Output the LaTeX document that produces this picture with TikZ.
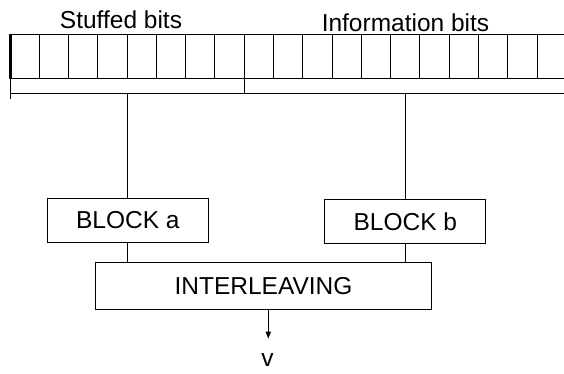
\documentclass[tikz,border=0pt]{standalone}
\usepackage{fontspec}
\setmainfont{Liberation Sans}
\usetikzlibrary{positioning,arrows.meta,calc}

\begin{document}
\begin{tikzpicture}[x=0.5pt,y=-0.5pt,line width=0.5pt,align=center,
    every node/.style={font=\fontsize{12.25}{14}\selectfont},
    blockbox/.style={draw=black,inner sep=0pt,minimum width=80.5pt,minimum height=22pt}]
      \useasboundingbox (0,0) rectangle (564,374);
      % the bit register
      \foreach \i in {1,...,18}
        \draw (10+\i*29.28,34.3) -- (10+\i*29.28,78.7);
      \draw (10,34.3) -- (564,34.3);
      \draw (10,78.7) -- (564,78.7);
      \draw[line width=1.5pt] (10.5,34.3) -- (10.5,78.7);
      % bracket under the register
      \draw (11,78.7) -- (11,99.3);
      \draw (11,93.3) -- (564,93.3);
      \draw (244,78.7) -- (244,93.3);
      \coordinate (stuffed) at (127.8,93.3);
      \coordinate (info) at (405.3,93.3);
      \node[anchor=base] (stufflabel) at (121,28.3) {Stuffed bits};
      \node[anchor=base] (infolabel) at (405.5,31.7) {Information bits};

      \node[blockbox] (blocka) at (127.8,220.3) {BLOCK a};
      \node[blockbox,minimum width=80.35pt] (blockb) at (405.3,221.3) {BLOCK b};
      \node[blockbox,minimum width=168.2pt,minimum height=23.5pt] (inter) at (263.5,285.8) {INTERLEAVING};
      \coordinate (out) at (268.3,309.3);
      \coordinate (outend) at (268.3,338.7);
      \node[anchor=base] (v) at (267.5,367) {v};

      \path (stuffed) edge (blocka.north)
            (info) edge (blockb.north)
            (blocka.south) edge (blocka.south |- inter.north)
            (blockb.south) edge (blockb.south |- inter.north);
      \draw[-{Triangle[length=3.5pt,width=2.6pt]}] (out) -- (outend);
    \end{tikzpicture}
\end{document}
